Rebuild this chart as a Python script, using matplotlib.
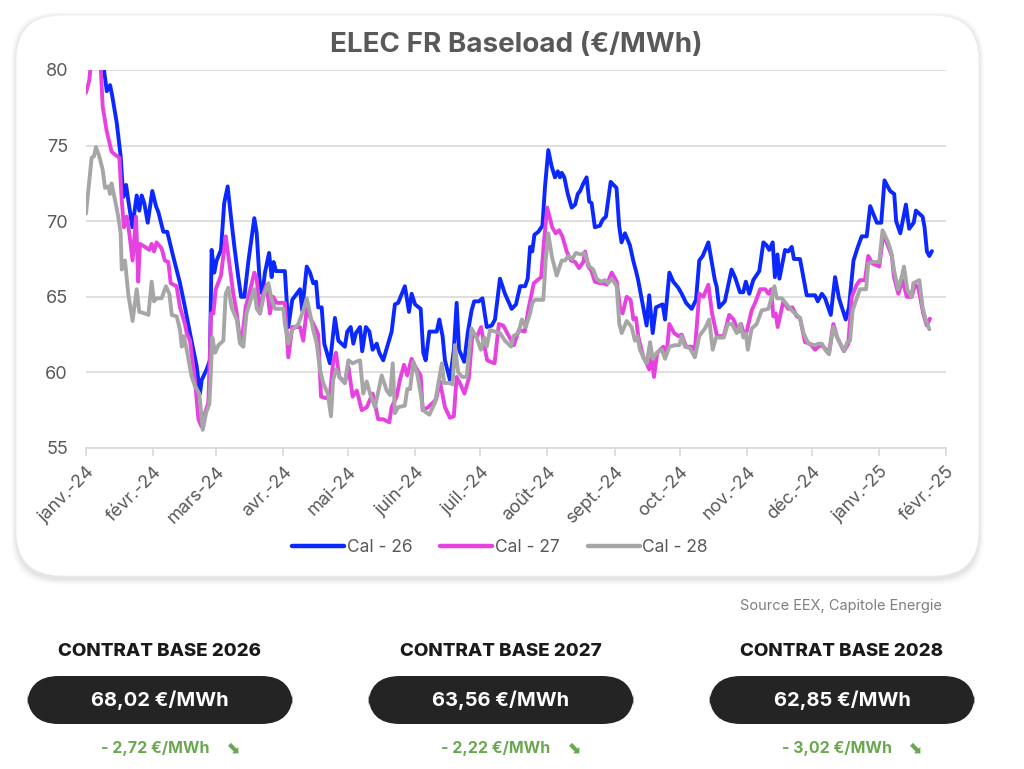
import numpy as np
import pandas as pd
import matplotlib
matplotlib.use("Agg")
import matplotlib.pyplot as plt
from matplotlib.patches import FancyBboxPatch

plt.rcParams['font.family'] = ['Inter', 'DejaVu Sans']

# ---------------- data (day offset from 2024-01-01, value in EUR/MWh) ----------------
cal26_days = [0, 3, 6, 9.6, 11.1, 12.1, 14.2, 16.0, 17.2, 18.5, 19.5, 21.4, 23.4, 24.6, 25.7, 26.9, 28.5, 30.6,
              32.3, 33.4, 35.7, 37.5, 40.2, 43.4, 45.7, 48.0, 51.1, 52.6, 53.4, 55.7, 57.2, 58.0, 59.2, 60.3,
              62.3, 63.8, 65.4, 66.9, 68.5, 70.3, 71.6, 73.1, 75.0, 77.7, 78.8, 80.3, 81.4, 82.6, 84.5, 85.7,
              86.6, 87.7, 91.8, 93.4, 95.2, 98.8, 99.8, 101.9, 103.4, 104.9, 106.2, 107.2, 108.8, 110.0, 112.6,
              114.9, 116.5, 119.5, 120.6, 122.2, 123.4, 124.6, 126.5, 127.5, 129.2, 130.8, 132.3, 134.2, 135.4,
              137.2, 141.1, 142.6, 144.1, 147.2, 149.1, 150.3, 151.9, 154.5, 155.7, 156.8, 158.5, 161.9, 163.1,
              164.6, 165.7, 168.0, 169.8, 171.1, 172.2, 174.6, 176.2, 178.0, 179.2, 181.4, 183.0, 185.0, 187.3,
              188.8, 191.1, 193.4, 196.5, 198.5, 200.4, 202.7, 203.9, 205.0, 206.0, 207.0, 208.8, 210.7, 211.9,
              213.4, 215.0, 216.5, 217.8, 218.8, 219.6, 220.8, 222.4, 224.2, 225.8, 227.0, 228.1, 229.6, 231.1,
              232.3, 233.4, 234.9, 237.2, 238.5, 240.0, 242.2, 244.9, 246.1, 247.2, 248.8, 251.1, 252.6, 253.9,
              254.9, 257.0, 258.8, 260.0, 261.6, 263.1, 266.2, 267.3, 269.3, 271.1, 273.4, 275.0, 277.0, 279.6,
              281.6, 283.1, 284.7, 287.3, 290.3, 291.1, 292.3, 294.9, 298.0, 299.6, 301.9, 303.4, 304.6, 306.2,
              308.0, 310.8, 312.7, 314.2, 315.4, 317.0, 318.0, 319.2, 320.1, 322.7, 324.2, 325.8, 326.8, 329.6,
              332.7, 336.6, 337.8, 339.7, 341.2, 343.8, 345.8, 347.6, 350.7, 352.2, 354.3, 356.3, 358.1, 360.4,
              362.0, 365.1, 367.1, 368.6, 371.2, 373.1, 374.0, 375.9, 378.5, 380.0, 382.1, 383.1, 386.2, 387.1,
              388.2, 389.3, 390.5]
cal26_vals = [83.0, 84.0, 82.5, 78.6, 79.0, 78.3, 76.5, 74.3, 71.6, 72.4, 71.4, 69.6, 71.7, 70.7, 71.7, 71.2, 69.9, 72.0,
              71.0, 70.6, 69.3, 69.3, 67.7, 65.9, 64.3, 62.6, 60.4, 58.6, 59.5, 60.2, 60.8, 68.1, 66.6, 67.4,
              68.1, 71.2, 72.3, 70.3, 68.3, 66.3, 65.0, 65.0, 67.4, 70.2, 69.2, 65.7, 65.2, 66.6, 67.9, 66.3,
              67.3, 66.7, 66.7, 63.0, 64.8, 65.5, 64.1, 67.0, 66.6, 65.9, 66.0, 64.3, 64.3, 61.9, 60.6,
              63.6, 62.1, 61.7, 62.7, 63.0, 61.9, 62.6, 63.0, 61.4, 63.0, 62.7, 61.5, 61.9, 61.3,
              60.8, 62.7, 64.5, 64.6, 65.7, 64.0, 65.2, 64.5, 64.2, 61.3, 60.8, 62.7, 62.7, 63.5,
              62.4, 60.8, 59.5, 61.5, 64.6, 61.5, 60.7, 62.6, 64.1, 64.7, 64.7, 64.9, 63.0, 63.1,
              63.5, 66.2, 65.2, 64.2, 64.5, 65.7, 65.7, 66.2, 68.3, 68.0, 69.1, 69.3, 69.7, 72.3,
              74.7, 73.6, 72.9, 73.3, 72.9, 73.2, 72.9, 71.8, 70.9, 71.1, 71.8, 72.0, 72.5, 72.9,
              71.3, 71.2, 69.6, 69.7, 70.1, 70.3, 72.6, 72.2, 69.7, 68.6, 69.2, 68.4, 67.4, 66.7,
              66.1, 64.5, 63.1, 65.1, 62.6, 64.3, 64.5, 63.5, 66.6, 66.0, 65.6, 65.2, 64.6, 64.2,
              64.8, 67.4, 67.7, 68.6, 66.1, 65.7, 64.3, 64.7, 66.8, 66.3, 65.3, 65.3, 66.0, 65.2,
              66.1, 66.7, 68.6, 68.4, 68.1, 68.6, 66.3, 67.8, 66.2, 68.1, 68.0, 68.3, 67.5, 67.5,
              65.1, 65.1, 64.7, 65.2, 64.9, 63.8, 66.3, 64.9, 63.5, 64.3, 67.4, 68.3, 69.0, 69.0,
              71.0, 69.9, 69.9, 72.7, 72.0, 71.8, 70.0, 69.2, 71.1, 69.5, 69.9, 70.7, 70.3, 69.6,
              68.0, 67.7, 68.02]

cal27_days = [0, 1.5, 3, 5, 6.5, 7.7, 9.5, 11.8, 13.4, 15.4, 16.5, 17.5, 18.8, 20.0, 21.5, 23.1, 24.1, 24.9, 27.2,
              29.2, 30.3, 31.4, 32.6, 34.9, 36.4, 38.0, 39.1, 41.8, 43.4, 45.7, 46.5, 48.0, 50.3, 51.9, 53.4,
              54.9, 56.5, 57.7, 58.8, 59.9, 62.3, 64.5, 66.0, 68.0, 69.6, 71.1, 72.2, 73.7, 76.2, 77.7, 78.8,
              80.3, 81.8, 83.4, 84.9, 86.4, 88.0, 91.8, 93.4, 95.2, 98.8, 100.3, 101.9, 103.9, 105.7, 107.2,
              108.5, 110.7, 112.6, 114.1, 115.4, 116.9, 119.5, 121.1, 123.1, 125.0, 127.3, 129.6, 132.3, 134.9,
              137.2, 140.0, 141.1, 143.4, 144.9, 146.8, 148.3, 150.3, 152.3, 154.5, 155.4, 158.0, 161.6, 163.4,
              165.7, 168.0, 169.8, 171.1, 172.9, 174.7, 176.7, 178.3, 180.6, 182.4, 183.7, 185.2, 186.8, 188.6,
              190.6, 192.6, 195.2, 197.5, 199.8, 202.5, 204.4, 206.7, 210.1, 211.4, 212.9, 215.2, 216.8, 218.4,
              219.9, 221.9, 223.9, 225.8, 227.6, 229.6, 230.4, 231.9, 233.4, 234.9, 237.2, 238.8, 240.4, 242.7,
              245.0, 246.5, 247.7, 249.6, 251.4, 252.7, 253.9, 254.9, 257.3, 258.8, 260.0, 261.1, 262.2, 263.7,
              266.5, 268.1, 269.3, 271.5, 273.5, 275.0, 277.0, 279.6, 281.1, 283.1, 285.0, 287.3, 289.0, 291.3,
              294.4, 296.9, 298.9, 301.2, 302.4, 303.9, 305.0, 307.3, 308.9, 311.2, 313.5, 315.0, 316.3, 317.3,
              318.4, 319.3, 321.9, 324.2, 326.1, 328.1, 329.6, 331.9, 334.2, 336.6, 338.9, 340.4, 343.0, 345.0,
              346.8, 349.9, 351.9, 353.5, 355.8, 357.3, 359.6, 361.1, 363.1, 366.2, 368.1, 370.4, 372.0, 373.0,
              375.0, 377.0, 378.9, 381.2, 382.7, 384.2, 386.5, 388.1, 389.6]
cal27_vals = [78.5, 79.3, 81.5, 82.0, 81.0, 77.6, 76.0, 74.6, 74.4, 74.2, 71.4, 69.6, 70.3, 69.2, 67.4, 70.3, 66.0, 68.5, 68.3,
              68.1, 68.5, 68.0, 68.6, 68.2, 67.4, 67.3, 65.9, 65.7, 64.3, 63.2, 62.6, 62.1, 59.5, 56.9, 56.4,
              57.3, 58.0, 63.9, 63.9, 65.5, 66.4, 69.0, 67.4, 65.2, 63.9, 62.1, 62.4, 64.3, 65.7, 66.6, 66.2,
              63.9, 65.2, 65.8, 63.9, 65.0, 64.6, 64.6, 61.0, 63.0, 63.0, 62.1, 64.2, 63.5, 63.0, 62.5,
              58.4, 58.3, 58.5, 60.7, 61.3, 59.7, 59.3, 60.4, 58.4, 58.8, 57.5, 57.7, 58.6, 56.9,
              56.9, 56.7, 57.7, 58.4, 59.5, 60.5, 59.8, 60.9, 60.3, 59.8, 57.5, 57.7, 58.2, 59.4,
              57.7, 57.0, 57.1, 59.7, 59.2, 58.6, 59.6, 62.4, 62.4, 63.0, 61.9, 60.8, 60.7, 60.6,
              63.2, 63.1, 62.4, 61.8, 62.8, 62.7, 64.3, 65.9, 66.3, 68.6, 70.9, 69.6, 69.2, 69.4,
              69.0, 68.0, 67.4, 67.3, 66.9, 67.3, 68.0, 67.0, 66.7, 66.0, 65.9, 65.9, 65.8, 66.6,
              66.0, 64.3, 63.9, 65.0, 64.8, 63.5, 63.6, 62.4, 61.0, 60.6, 60.2, 61.0, 59.7, 61.3,
              61.7, 61.3, 63.2, 62.6, 62.4, 62.5, 61.7, 61.7, 61.5, 65.2, 65.0, 65.8, 63.9, 62.4,
              62.4, 63.8, 63.5, 62.7, 63.2, 62.4, 62.7, 64.1, 64.6, 65.5, 65.5, 65.2, 65.5, 63.7,
              63.9, 63.0, 64.7, 64.2, 64.3, 63.7, 63.6, 62.0, 61.9, 61.5, 61.8, 61.7, 61.3, 63.2,
              62.3, 61.4, 61.9, 65.0, 65.8, 66.1, 66.1, 67.7, 67.2, 67.0, 69.2, 68.3, 67.7, 66.3,
              65.2, 66.1, 65.0, 65.0, 65.8, 65.6, 63.9, 63.1, 63.56]

cal28_days = [0, 2.6, 3.7, 4.6, 6.1, 7.7, 8.8, 10.3, 11.1, 11.8, 13.4, 14.9, 16.0, 16.5, 18.0, 19.5, 21.5, 23.4, 24.6,
              27.2, 28.8, 30.3, 31.4, 32.6, 34.9, 36.9, 38.5, 39.6, 41.9, 43.4, 44.2, 45.2, 46.5, 48.8, 50.3,
              52.3, 53.9, 55.4, 56.9, 57.5, 58.3, 59.6, 61.1, 63.4, 64.5, 65.7, 67.2, 69.6, 71.1, 72.6, 74.1,
              76.5, 77.7, 78.8, 80.3, 82.3, 84.2, 85.7, 87.3, 91.1, 91.8, 93.4, 95.2, 98.0, 100.3, 101.9, 103.4,
              104.9, 106.5, 108.0, 109.5, 111.6, 113.1, 114.1, 115.4, 117.2, 119.5, 121.1, 123.1, 124.6, 126.5,
              128.0, 129.6, 131.1, 133.4, 136.5, 138.8, 140.4, 141.6, 142.6, 144.2, 147.2, 148.3, 149.6, 151.1,
              152.9, 154.5, 155.7, 158.5, 161.1, 162.2, 164.3, 165.3, 168.0, 169.2, 170.3, 171.8, 173.7, 175.7,
              176.5, 178.0, 180.3, 182.3, 183.9, 185.0, 186.5, 188.8, 191.1, 193.4, 196.2, 197.3, 199.6, 201.2,
              203.0, 205.0, 206.0, 207.3, 211.1, 212.2, 213.4, 215.0, 217.3, 219.6, 221.1, 222.7, 224.5, 226.1,
              228.5, 230.0, 232.4, 234.2, 235.7, 237.6, 239.6, 241.1, 242.7, 245.0, 246.2, 247.3, 249.6, 251.9,
              253.4, 254.5, 255.7, 257.3, 258.8, 260.4, 261.6, 263.5, 265.8, 267.3, 269.3, 271.9, 273.9, 275.0,
              276.5, 278.8, 281.1, 283.1, 285.7, 287.7, 289.3, 290.8, 294.4, 296.3, 298.2, 300.4, 302.0, 303.5,
              304.6, 305.5, 307.3, 309.6, 311.9, 315.0, 316.6, 317.8, 318.9, 321.2, 323.5, 325.8, 328.1, 329.6,
              331.2, 333.5, 336.6, 338.1, 339.7, 341.2, 343.0, 345.0, 346.5, 349.9, 351.4, 352.7, 353.9, 355.8,
              357.3, 360.1, 361.1, 362.7, 366.2, 367.7, 370.3, 371.8, 373.1, 374.9, 376.5, 377.6, 379.1, 381.2,
              381.9, 384.7, 386.2, 387.4, 389.3]
cal28_vals = [70.5, 74.2, 74.3, 74.9, 74.3, 73.4, 72.2, 72.3, 71.8, 72.5, 71.4, 70.3, 69.2, 66.8, 67.4, 65.2, 63.4, 65.5, 64.0,
              63.9, 63.8, 66.0, 64.7, 64.9, 64.9, 65.7, 65.2, 63.8, 63.7, 62.8, 61.7, 62.4, 61.5, 59.7, 59.1,
              58.6, 56.2, 57.3, 57.9, 59.5, 62.3, 61.3, 61.8, 62.1, 65.2, 65.6, 64.3, 63.5, 61.9, 61.7, 63.9,
              65.0, 65.5, 64.2, 63.9, 65.2, 65.9, 64.8, 64.2, 64.2, 63.2, 61.9, 62.8, 63.2, 64.1, 64.9, 63.9,
              62.8, 61.9, 60.2, 59.3, 58.6, 57.1, 59.5, 60.2, 59.7, 59.3, 60.8, 60.6, 60.7, 60.8,
              58.6, 59.4, 58.6, 57.7, 59.8, 58.8, 58.5, 60.6, 57.3, 57.7, 57.8, 58.9, 58.9, 60.7,
              59.9, 58.6, 57.5, 57.2, 58.0, 58.9, 60.6, 59.3, 59.3, 59.2, 61.8, 60.0, 59.7, 59.7,
              60.8, 62.9, 62.3, 61.5, 62.3, 61.7, 62.8, 62.7, 62.6, 62.1, 61.7, 62.4, 62.6, 63.5,
              63.0, 63.9, 64.6, 64.8, 64.8, 67.4, 69.2, 67.7, 66.4, 67.4, 67.4, 67.7, 67.5, 67.9,
              67.8, 67.9, 67.0, 66.8, 66.2, 66.0, 66.1, 65.9, 66.2, 65.7, 63.2, 62.6, 63.4, 63.0,
              62.1, 62.4, 61.5, 61.0, 60.6, 62.0, 60.9, 61.3, 61.5, 60.9, 61.7, 61.8, 61.8, 62.4,
              61.7, 61.6, 61.0, 62.4, 62.9, 63.5, 61.5, 62.3, 62.3, 63.2, 63.2, 62.6, 63.2, 62.3,
              62.6, 61.5, 62.9, 63.2, 64.1, 64.2, 65.0, 65.7, 64.9, 64.9, 64.5, 64.1, 63.8, 63.6,
              62.6, 61.9, 61.8, 61.9, 61.9, 61.5, 61.2, 63.0, 62.4, 61.4, 62.0, 62.1, 64.1, 64.9,
              65.5, 65.5, 67.2, 67.3, 67.3, 69.4, 68.6, 67.9, 66.7, 65.5, 66.3, 67.0, 65.5, 65.0,
              65.9, 66.1, 64.3, 63.6, 62.85]

series_names = ["Cal - 26", "Cal - 27", "Cal - 28"]
series_colors = ["#0a28ff", "#e642e0", "#a6a6a6"]

month_ticks = pd.date_range("2024-01-01", "2025-02-01", freq="MS")
month_labels = ["janv.-24", "févr.-24", "mars-24", "avr.-24", "mai-24", "juin-24", "juil.-24",
                "août-24", "sept.-24", "oct.-24", "nov.-24", "déc.-24", "janv.-25", "févr.-25"]
y_ticks = [55, 60, 65, 70, 75, 80]

contracts = ["CONTRAT BASE 2026", "CONTRAT BASE 2027", "CONTRAT BASE 2028"]
prices = ["68,02 €/MWh", "63,56 €/MWh", "62,85 €/MWh"]
changes = ["- 2,72 €/MWh", "- 2,22 €/MWh", "- 3,02 €/MWh"]

title = "ELEC FR Baseload (€/MWh)"
source = "Source EEX, Capitole Energie"

# ---------------- figure ----------------
W, H = 1024, 769
fig = plt.figure(figsize=(W / 100, H / 100), dpi=100)
fig.patch.set_facecolor("white")

def fx(px):
    return px / W

def fy(py):
    return 1 - py / H

# card with soft shadow
for i, a in enumerate([0.012, 0.015, 0.02, 0.025, 0.03]):
    g = 10 - 2 * i
    sh = FancyBboxPatch((fx(16 - g * 0.5), fy(579 + g * 0.6)), fx(963 + g * 1.0), fy(16 - g * 0.4) - fy(579 + g * 0.6),
                        boxstyle="round,pad=0,rounding_size=0.045", transform=fig.transFigure,
                        facecolor="#000000", alpha=a, edgecolor="none", zorder=0, mutation_aspect=W / H)
    fig.patches.append(sh)
card = FancyBboxPatch((fx(16), fy(576)), fx(963), fy(15) - fy(576),
                      boxstyle="round,pad=0,rounding_size=0.045", transform=fig.transFigure,
                      facecolor="white", edgecolor="#f0f0f0", lw=0.6, zorder=1, mutation_aspect=W / H)
fig.patches.append(card)

base = pd.Timestamp("2024-01-01")
ax = fig.add_axes([fx(86), fy(448), fx(946) - fx(86), fy(70) - fy(448)])
ax.set_facecolor("none")
ax.set_zorder(3)

for days, vals, name, col in zip([cal26_days, cal27_days, cal28_days],
                                 [cal26_vals, cal27_vals, cal28_vals],
                                 series_names, series_colors):
    dates = base + pd.to_timedelta(np.array(days), unit="D")
    ax.plot(dates, vals, color=col, lw=2.8, label=name, solid_joinstyle="round", solid_capstyle="round")

ax.set_ylim(55, 80)
ax.set_xlim(month_ticks[0], month_ticks[-1])
ax.set_yticks(y_ticks)
ax.set_yticklabels([str(v) for v in y_ticks])
ax.set_xticks(month_ticks)
ax.set_xticklabels(month_labels, rotation=45, ha="right", rotation_mode="anchor")
ax.grid(axis="y", color="#d9d9d9", lw=1.2)
ax.set_axisbelow(True)
for s in ["top", "right", "left"]:
    ax.spines[s].set_visible(False)
ax.spines["bottom"].set_color("#d9d9d9")
ax.spines["bottom"].set_linewidth(1.2)
ax.tick_params(axis="y", length=0, labelsize=13, labelcolor="#595959", pad=13)
ax.tick_params(axis="x", length=6, width=1.2, color="#d9d9d9", labelsize=13, labelcolor="#595959", pad=5)

fig.text(fx(516), fy(45), title, ha="center", va="center", fontsize=20, fontweight="bold", color="#595959")

leg = fig.legend(loc="center", bbox_to_anchor=(fx(500), fy(548)), ncol=3, frameon=False,
                 fontsize=12.5, handlelength=3.0, handletextpad=0.15, columnspacing=1.6)
for t in leg.get_texts():
    t.set_color("#595959")
for l in leg.get_lines():
    l.set_linewidth(3.2)

fig.text(fx(942), fy(606), source, ha="right", va="center", fontsize=10.5, color="#7f7f7f")

centers = [160, 501, 842]
for cx, c, p, ch in zip(centers, contracts, prices, changes):
    fig.text(fx(cx), fy(651), c, ha="center", va="center", fontsize=13.5, fontweight="heavy", color="#1a1a1a")
    pill = FancyBboxPatch((fx(cx - 133), fy(724)), fx(266), fy(676) - fy(724),
                          boxstyle="round,pad=0,rounding_size=0.031", transform=fig.transFigure,
                          facecolor="#242424", edgecolor="none", zorder=2, mutation_aspect=W / H)
    fig.patches.append(pill)
    fig.text(fx(cx), fy(700), p, ha="center", va="center", fontsize=14.5, fontweight="bold", color="white", zorder=4)
    fig.text(fx(cx - 5), fy(748), ch, ha="center", va="center", fontsize=11.5, fontweight="bold", color="#6aa84f")
    fig.text(fx(cx + 73), fy(748), "⬊", ha="center", va="center", fontsize=12, fontweight="bold",
             color="#6aa84f", family=["DejaVu Sans"])

fig.savefig("out.png", dpi=100, facecolor="white")
